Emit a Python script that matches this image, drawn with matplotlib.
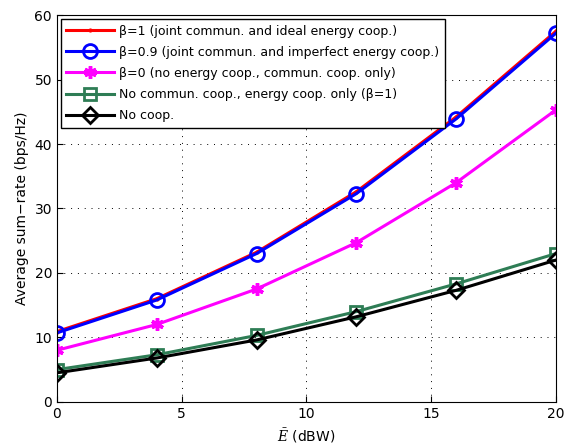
import matplotlib
matplotlib.use("Agg")
import matplotlib.pyplot as plt

plt.rcParams.update({
    "font.family": "DejaVu Sans",
    "font.size": 10,
    "mathtext.fontset": "dejavuserif",
})

E = [0, 4, 8, 12, 16, 20]
ideal = [10.9, 16.0, 23.2, 32.6, 44.2, 57.5]
imperfect = [10.7, 15.8, 23.0, 32.3, 43.9, 57.2]
no_energy = [8.0, 12.0, 17.5, 24.7, 34.0, 45.3]
energy_only = [5.0, 7.3, 10.3, 14.0, 18.3, 23.0]
no_coop = [4.5, 6.8, 9.6, 13.2, 17.3, 22.0]

fig = plt.figure(figsize=(5.69, 4.45), dpi=100)
ax = fig.add_axes([0.1, 0.097, 0.877, 0.869])

ax.plot(E, ideal, "-", color="red", lw=2.2, marker=".", ms=4,
        label="β=1 (joint commun. and ideal energy coop.)")
ax.plot(E, imperfect, "-", color="blue", lw=2.2, marker="o", ms=10,
        mfc="none", mew=2, label="β=0.9 (joint commun. and imperfect energy coop.)")
ax.plot(E, no_energy, "-", color="magenta", lw=2.2, marker=(6, 2, 0), ms=9,
        mew=2.5, label="β=0 (no energy coop., commun. coop. only)")
ax.plot(E, energy_only, "-", color="#2e7d55", lw=2.2, marker="s", ms=8,
        mfc="none", mew=2, label="No commun. coop., energy coop. only (β=1)")
ax.plot(E, no_coop, "-", color="black", lw=2.2, marker="D", ms=8,
        mfc="none", mew=2, label="No coop.")

ax.set_xlim(0, 20)
ax.set_ylim(0, 60)
ax.set_xticks([0, 5, 10, 15, 20])
ax.set_yticks(range(0, 61, 10))
ax.grid(True, color="black", ls=(0, (1, 6)), lw=0.7)
ax.tick_params(direction="in", length=4)
ax.set_xlabel(r"$\bar{E}$ (dBW)")
ax.set_ylabel("Average sum−rate (bps/Hz)")
leg = ax.legend(loc="upper left", fancybox=False, edgecolor="black",
                framealpha=1, fontsize=9, handlelength=3.8, handletextpad=0.4,
                borderaxespad=0.3, labelspacing=0.65, borderpad=0.45)
leg.get_frame().set_linewidth(1.0)

fig.savefig("out.png", dpi=100)
